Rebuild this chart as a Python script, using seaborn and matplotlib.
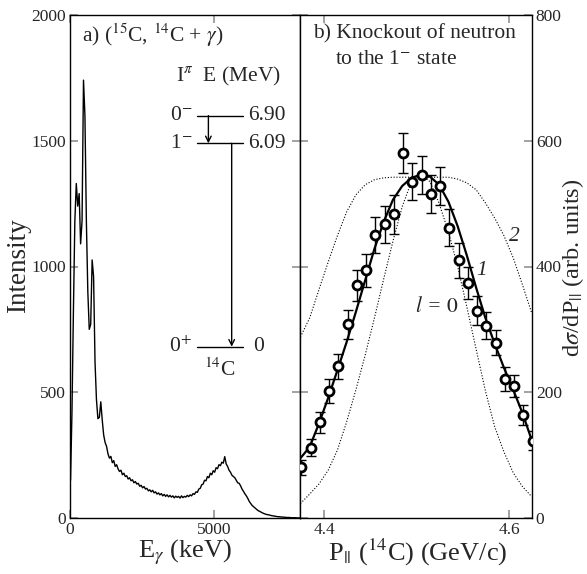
import numpy as np
import pandas as pd
import matplotlib
matplotlib.use("Agg")
import matplotlib.pyplot as plt
import seaborn as sns

# ---------------- data ----------------
# gamma spectrum, 50 keV bins from 0 to 8000 keV (counts per bin)
spec_counts = [
    150, 420, 820, 1180, 1330, 1240, 1290, 1090, 1180, 1741,
    1600, 1180, 900, 750, 770, 1026, 960, 620, 470, 395,
    400, 462, 390, 330, 300, 285, 255, 238, 245, 220,
    228, 205, 212, 195, 185, 190, 172, 178, 165, 168,
    155, 160, 148, 152, 140, 145, 135, 138, 126, 130,
    120, 125, 115, 118, 108, 112, 104, 110, 100, 104,
    95, 100, 92, 97, 88, 94, 86, 92, 84, 90,
    83, 88, 80, 87, 82, 86, 79, 88, 81, 86,
    83, 90, 85, 92, 88, 97, 94, 104, 102, 115,
    118, 132, 135, 150, 148, 165, 160, 178, 172, 188,
    182, 200, 196, 212, 208, 222, 218, 244, 215, 205,
    190, 182, 170, 165, 160, 150, 140, 138, 128, 115,
    106, 96, 88, 78, 66, 58, 50, 45, 40, 35,
    30, 27, 24, 21, 18, 16, 14, 13, 12, 10,
    9, 8, 7, 6, 5, 5, 4, 4, 3, 3,
    2, 2, 2, 1, 1, 1, 1, 0, 0, 0,
]
bin_width_kev = 50

# momentum distribution data points
p_mom = [4.375, 4.385, 4.395, 4.405, 4.415, 4.425, 4.435, 4.445, 4.455, 4.465,
         4.475, 4.485, 4.495, 4.505, 4.515, 4.525, 4.535, 4.545, 4.555, 4.565,
         4.575, 4.585, 4.595, 4.605, 4.615, 4.625]
p_xsec = [81, 112, 152, 202, 241, 308, 370, 394, 450, 467,
          483, 581, 535, 546, 515, 528, 462, 410, 374, 330,
          306, 279, 221, 210, 164, 123]
p_err = [12, 14, 17, 19, 20, 23, 25, 26, 28, 30,
         31, 32, 30, 30, 30, 30, 30, 28, 25, 23,
         22, 20, 19, 18, 16, 15]

# theoretical curves
curve_p = [4.374, 4.384, 4.394, 4.404, 4.414, 4.424, 4.434, 4.444, 4.454, 4.464,
           4.474, 4.484, 4.494, 4.504, 4.514, 4.524, 4.534, 4.544, 4.554, 4.564,
           4.574, 4.584, 4.594, 4.604, 4.614, 4.624]
curve_l1 = [95, 113, 150, 191, 235, 280, 328, 378, 428, 471,
            506, 528, 541, 546, 543, 530, 503, 464, 417, 366,
            318, 277, 239, 204, 167, 124]
curve_l0 = [23, 38, 54, 76, 108, 153, 204, 259, 318, 380,
            440, 495, 535, 547, 535, 500, 455, 400, 335, 268,
            202, 145, 105, 72, 50, 34]
curve_l2 = [288, 318, 363, 407, 449, 487, 514, 530, 538, 541,
            542, 542, 542, 542, 542, 542, 542, 539, 533, 522,
            501, 477, 449, 414, 371, 326]

# ---------------- style ----------------
sns.set_style("ticks")
plt.rcParams['font.family'] = ['Liberation Serif', 'DejaVu Serif']
plt.rcParams['mathtext.fontset'] = 'stix'

TICK_C = '#9a9a9a'
FS_TICK = 12.5
FS_XLAB = 19
FS_YLAB = 19.5
FS_RLAB = 17.5
FS_ANN = 15.5

fig = plt.figure(figsize=(5.87, 5.74), dpi=100)
W, H = 587.0, 574.0
ax1 = fig.add_axes([69.8 / W, 1 - 518 / H, 230.6 / W, 503 / H])
ax2 = fig.add_axes([300.4 / W, 1 - 518 / H, 231.3 / W, 503 / H])

# ---------------- left panel: spectrum ----------------
n_bins = len(spec_counts)
centers = np.arange(n_bins) * bin_width_kev + bin_width_kev / 2
spec_df = pd.DataFrame({"E": centers, "counts": spec_counts})
sns.histplot(data=spec_df, x="E", weights="counts", binwidth=bin_width_kev,
             binrange=(0, n_bins * bin_width_kev), element="poly",
             fill=False, color="black", linewidth=1.0, ax=ax1)
ax1.set_xlim(0, 8000)
ax1.set_ylim(0, 2000)
ax1.set_xticks([0, 5000])
ax1.set_yticks([0, 500, 1000, 1500, 2000])
ax1.set_xlabel("")
ax1.set_ylabel("")

# ---------------- right panel: momentum distribution ----------------
curves = pd.DataFrame({"p": curve_p, "l1": curve_l1, "l0": curve_l0, "l2": curve_l2})
sns.lineplot(data=curves, x="p", y="l0", ax=ax2, color="black", linewidth=0.8,
             linestyle=(0, (1, 1.6)), zorder=2)
sns.lineplot(data=curves, x="p", y="l2", ax=ax2, color="black", linewidth=0.8,
             linestyle=(0, (1, 1.6)), zorder=2)
sns.lineplot(data=curves, x="p", y="l1", ax=ax2, color="black", linewidth=1.6, zorder=3)
ax2.errorbar(p_mom, p_xsec, yerr=p_err, fmt='none', ecolor='black',
             elinewidth=1.0, capsize=3.5, capthick=1.0, zorder=4)
pts = pd.DataFrame({"p": p_mom, "xs": p_xsec})
sns.scatterplot(data=pts, x="p", y="xs", ax=ax2, marker='o', s=42,
                facecolor='white', edgecolor='black', linewidth=2.0, zorder=5)
ax2.set_xlim(4.374, 4.624)
ax2.set_ylim(0, 800)
ax2.set_xticks([4.4, 4.6])
ax2.set_xticklabels(["4.4", "4.6"])
ax2.set_yticks([0, 200, 400, 600, 800])
ax2.set_xlabel("")
ax2.set_ylabel("")

for ax in (ax1, ax2):
    for s in ax.spines.values():
        s.set_color("black")
        s.set_linewidth(1.0)
    ax.tick_params(direction='in', length=6, width=1.3, color=TICK_C,
                   top=True, right=True, labelsize=FS_TICK, pad=3)
ax2.tick_params(axis='y', labelleft=False, labelright=True)

# ---------------- axis labels ----------------
fig.text(19 / W, 1 - 266 / H, "Intensity", rotation=90, ha='center', va='center', size=FS_YLAB)
fig.text(573.5 / W, 1 - 268 / H, r"d$\sigma$/dP$_{||}$ (arb. units)", rotation=90,
         ha='center', va='center', size=FS_RLAB)
fig.text(185 / W, 1 - 552 / H, r"E$_{\gamma}$ (keV)", ha='center', va='center', size=FS_XLAB)
fig.text(418 / W, 1 - 552 / H, r"P$_{||}$ ($^{14}$C) (GeV/c)", ha='center', va='center', size=FS_XLAB)

# ---------------- annotations, left panel ----------------
T = ax1.transAxes
ax1.text(0.052, 0.960, r"a) ($^{15}$C, $^{14}$C + $\gamma$)", transform=T,
         ha='left', va='center', size=FS_ANN)
ax1.text(0.4605, 0.877, r"I$^{\pi}$  E (MeV)", transform=T, ha='left', va='center', size=FS_ANN)
lv_x0, lv_x1 = 0.553, 0.752
levels = [(0.800, r"0$^{-}$", "6.90"), (0.745, r"1$^{-}$", "6.09"), (0.3406, r"0$^{+}$", "0")]
for y, spin, en in levels:
    ax1.plot([lv_x0, lv_x1], [y, y], transform=T, color='black', linewidth=1.0)
    ax1.text(0.530, y, spin, transform=T, ha='right', va='center', size=FS_ANN)
    ax1.text(0.774 if en != "0" else 0.796, y, en, transform=T, ha='left', va='center', size=FS_ANN)
ax1.annotate("", xy=(0.601, 0.745), xytext=(0.601, 0.800), xycoords=T, textcoords=T,
             arrowprops=dict(arrowstyle='->', color='black', lw=1.0, shrinkA=0, shrinkB=0,
                             mutation_scale=10))
ax1.annotate("", xy=(0.702, 0.3406), xytext=(0.702, 0.745), xycoords=T, textcoords=T,
             arrowprops=dict(arrowstyle='->', color='black', lw=1.0, shrinkA=0, shrinkB=0,
                             mutation_scale=10))
ax1.text(0.651, 0.294, r"$^{14}$C", transform=T, ha='center', va='center', size=FS_ANN)

# ---------------- annotations, right panel ----------------
T2 = ax2.transAxes
ax2.text(0.053, 0.9636, "b) Knockout of neutron", transform=T2, ha='left', va='center', size=FS_ANN)
ax2.text(0.150, 0.912, r"to the 1$^{-}$ state", transform=T2, ha='left', va='center', size=FS_ANN)
ax2.text(4.498, 336, r"$l$ = $0$", ha='left', va='center', size=FS_ANN, style='italic')
ax2.text(4.570, 394, "1", ha='center', va='center', size=FS_ANN, style='italic')
ax2.text(4.605, 447, "2", ha='center', va='center', size=FS_ANN, style='italic')

fig.savefig("out.png", dpi=100)
